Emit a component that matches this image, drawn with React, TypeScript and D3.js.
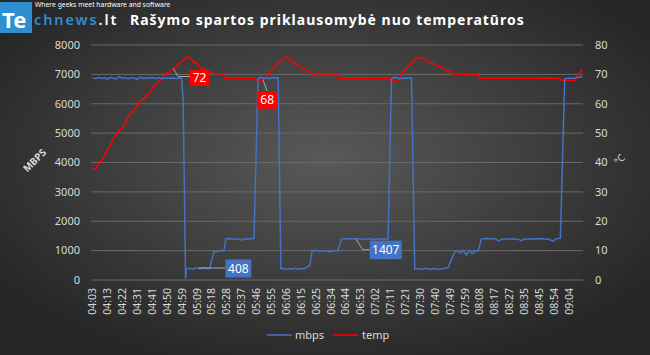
import { useEffect, useRef } from "react"
import * as d3 from "d3"

// x positions are in label steps (0 = "04:03", 1 = "04:13", ...)
const timeLabels = [
  "04:03", "04:13", "04:22", "04:31", "04:41", "04:50", "04:59", "05:09", "05:18", "05:28", "05:37",
  "05:46", "05:55", "06:06", "06:15", "06:25", "06:34", "06:44", "06:53", "07:02", "07:11", "07:21",
  "07:30", "07:40", "07:49", "07:59", "08:08", "08:17", "08:27", "08:35", "08:45", "08:54", "09:04",
]

const mbpsX = [
  0, 0.2, 0.4, 0.6, 0.8, 1.0, 1.2, 1.4, 1.6, 1.8, 2.0, 2.2, 2.4, 2.6, 2.8, 3.0, 3.2, 3.4, 3.6, 3.8, 4.0,
  4.2, 4.4, 4.6, 4.8, 5.0, 5.2, 5.4, 5.6, 5.8, 5.97, 6.08, 6.24, 6.3, 6.5, 6.7, 6.9, 7.1, 7.3, 7.5, 7.7,
  7.87, 8.0, 8.16, 8.4, 8.6, 8.81, 8.95, 9.2, 9.5, 9.8, 10.0, 10.1, 10.4, 10.83, 11.11, 11.3, 11.5, 11.7,
  11.9, 12.1, 12.3, 12.46, 12.64, 12.8, 13.0, 13.2, 13.4, 13.6, 13.8, 14.0, 14.2, 14.4, 14.58, 14.74, 15.0,
  15.3, 15.6, 15.9, 16.2, 16.46, 16.71, 17.0, 17.3, 17.67, 18.0, 18.3, 18.6, 18.9, 19.2, 19.5, 19.84, 20.07,
  20.3, 20.6, 20.9, 21.2, 21.41, 21.63, 21.9, 22.1, 22.4, 22.7, 23.0, 23.3, 23.6, 23.87, 24.31, 24.5, 24.7,
  24.9, 25.1, 25.3, 25.5, 25.7, 25.88, 26.11, 26.5, 27.0, 27.3, 27.5, 28.0, 28.5, 28.8, 29.0, 29.5, 30.0,
  30.3, 30.6, 30.9, 31.1, 31.41, 31.7, 32.0, 32.3, 32.6, 32.89,
]
const mbpsValues = [
  6880, 6850, 6900, 6860, 6880, 6840, 6900, 6870, 6850, 6920, 6870, 6880, 6850, 6890, 6870, 6840, 6900,
  6860, 6880, 6870, 6900, 6850, 6880, 6870, 6860, 6880, 6870, 6880, 6860, 6880, 6870, 6100, 50, 380, 400,
  370, 410, 408, 390, 420, 380, 400, 700, 960, 980, 1000, 990, 1400, 1410, 1390, 1400, 1350, 1400, 1400,
  1410, 6850, 6900, 6850, 6880, 6860, 6900, 6870, 6880, 380, 400, 360, 390, 370, 410, 360, 400, 380, 450,
  500, 1000, 1010, 980, 1000, 960, 990, 1000, 1400, 1410, 1400, 1407, 1400, 1390, 1400, 1380, 1400, 1400,
  1400, 6850, 6900, 6850, 6880, 6870, 6880, 370, 390, 360, 400, 370, 390, 360, 400, 420, 950, 1000, 920,
  1010, 850, 1000, 900, 1000, 980, 1400, 1410, 1400, 1330, 1400, 1400, 1400, 1340, 1400, 1400, 1410, 1400,
  1400, 1320, 1400, 1420, 6850, 6880, 6860, 6900, 6920,
]

const tempX = [
  0, 0.22, 0.49, 0.71, 0.83, 1.16, 1.38, 1.61, 1.83, 2.05, 2.28, 2.5, 2.72, 2.95, 3.17, 3.4, 3.62, 3.85,
  4.07, 4.3, 4.52, 4.74, 4.97, 5.19, 5.41, 5.64, 5.86, 6.08, 6.31, 6.53, 6.75, 6.98, 7.2, 7.54, 7.76, 7.99,
  8.81, 8.9, 10.89, 11.0, 11.45, 11.68, 12.01, 12.35, 12.57, 12.91, 13.24, 13.46, 13.69, 14.03, 14.36,
  14.58, 14.81, 16.48, 16.55, 19.95, 20.02, 20.45, 20.62, 20.85, 21.07, 21.3, 21.52, 21.74, 22.08, 22.3,
  22.64, 22.97, 23.31, 23.64, 23.98, 24.2, 25.88, 25.99, 31.36, 31.48, 32.37, 32.59, 32.89,
]
const tempValues = [
  37.8, 37.8, 40.3, 41.1, 43.1, 45.4, 48.2, 49.4, 51.3, 52.0, 54.5, 56.5, 57.5, 59.0, 61.0, 61.5, 63.0,
  63.8, 65.8, 66.6, 67.8, 69.2, 70.4, 70.9, 72, 72.6, 74.0, 74.7, 75.8, 75.8, 74.3, 73.8, 72.4, 71.7,
  71.3, 70.4, 70.0, 68.7, 68.7, 68.1, 68, 69.2, 71.3, 73.2, 74.3, 75.8, 75.5, 74.0, 73.2, 72.4, 71.5,
  70.9, 69.8, 69.8, 68.7, 68.7, 67.9, 67.9, 68.7, 70.9, 72.1, 73.2, 74.7, 75.7, 75.8, 74.9, 74.0, 73.5,
  72.6, 71.7, 70.9, 70.0, 69.8, 68.7, 68.7, 67.9, 67.9, 69.8, 71.7,
]

const leftTicks = [0, 1000, 2000, 3000, 4000, 5000, 6000, 7000, 8000]
const rightTicks = [0, 10, 20, 30, 40, 50, 60, 70, 80]

// callouts: [x, value, label]
const tempCallouts: [number, number, string][] = [[5.41, 72, "72"], [11.45, 68, "68"]]
const mbpsCallouts: [number, number, string][] = [[7.1, 408, "408"], [17.67, 1407, "1407"]]

const BLUE = "#4472C4"
const RED = "#FF0000"
const FONT = "'Noto Sans', sans-serif"

export default function App() {
  const svgRef = useRef<SVGSVGElement>(null)

  useEffect(() => {
    if (!svgRef.current) return
    const width = 650
    const height = 355

    d3.select(svgRef.current).selectAll("*").remove()
    const svg = d3.select(svgRef.current)

    // Background gradient
    const defs = svg.append("defs")
    const grad = defs
      .append("radialGradient")
      .attr("id", "bg")
      .attr("cx", "50%")
      .attr("cy", "45%")
      .attr("r", "60%")
    grad.append("stop").attr("offset", "0%").attr("stop-color", "#595959")
    grad.append("stop").attr("offset", "100%").attr("stop-color", "#272727")
    svg.append("rect").attr("width", width).attr("height", height).attr("fill", "url(#bg)")

    const left = 91
    const right = 583
    const x = d3.scaleLinear().domain([-0.11, 32.93]).range([left, right])
    const yL = d3.scaleLinear().domain([0, 8000]).range([280, 45])
    const yR = d3.scaleLinear().domain([0, 80]).range([280, 45])

    // Gridlines
    svg
      .append("g")
      .selectAll("line")
      .data(leftTicks)
      .join("line")
      .attr("x1", left)
      .attr("x2", right)
      .attr("y1", (d) => yL(d))
      .attr("y2", (d) => yL(d))
      .attr("stroke", "#6a6a6a")
      .attr("stroke-width", 1)

    // Left axis labels
    svg
      .append("g")
      .selectAll("text")
      .data(leftTicks)
      .join("text")
      .attr("x", 80)
      .attr("y", (d) => yL(d))
      .attr("dy", "0.35em")
      .attr("text-anchor", "end")
      .attr("fill", "#d9d9d9")
      .style("font", `11px ${FONT}`)
      .text((d) => d)

    // Right axis labels
    svg
      .append("g")
      .selectAll("text")
      .data(rightTicks)
      .join("text")
      .attr("x", 595)
      .attr("y", (d) => yR(d))
      .attr("dy", "0.35em")
      .attr("fill", "#d9d9d9")
      .style("font", `11px ${FONT}`)
      .text((d) => d)

    // X labels
    svg
      .append("g")
      .selectAll("text")
      .data(timeLabels)
      .join("text")
      .attr("transform", (_d, i) => `translate(${x(i)},288) rotate(-90)`)
      .attr("dy", "0.35em")
      .attr("text-anchor", "end")
      .attr("fill", "#d9d9d9")
      .style("font", `10.5px ${FONT}`)
      .text((d) => d)

    // Axis titles
    svg
      .append("text")
      .attr("transform", "translate(37,163) rotate(-45)")
      .attr("text-anchor", "middle")
      .attr("fill", "#d9d9d9")
      .style("font", `bold 10px ${FONT}`)
      .text("MBPS")
    svg
      .append("text")
      .attr("transform", "translate(622,162) rotate(-45)")
      .attr("text-anchor", "middle")
      .attr("fill", "#d9d9d9")
      .style("font", `10px ${FONT}`)
      .text("°C")

    // Lines
    const mbpsData = mbpsX.map((v, i) => [v, mbpsValues[i]] as [number, number])
    const tempData = tempX.map((v, i) => [v, tempValues[i]] as [number, number])

    svg
      .append("path")
      .datum(tempData)
      .attr("fill", "none")
      .attr("stroke", RED)
      .attr("stroke-width", 1.5)
      .attr("d", d3.line<[number, number]>().x((d) => x(d[0])).y((d) => yR(d[1])))

    svg
      .append("path")
      .datum(mbpsData)
      .attr("fill", "none")
      .attr("stroke", BLUE)
      .attr("stroke-width", 1.5)
      .attr("d", d3.line<[number, number]>().x((d) => x(d[0])).y((d) => yL(d[1])))

    // Callouts
    const drawCallout = (
      px: number,
      py: number,
      pts: [number, number][],
      bx: number,
      by: number,
      bw: number,
      bh: number,
      fill: string,
      label: string
    ) => {
      svg
        .append("path")
        .attr("d", d3.line()([[px, py], ...pts]))
        .attr("fill", "none")
        .attr("stroke", "#a6a6a6")
        .attr("stroke-width", 1)
      svg.append("rect").attr("x", bx).attr("y", by).attr("width", bw).attr("height", bh).attr("fill", fill)
      svg
        .append("text")
        .attr("x", bx + bw / 2)
        .attr("y", by + bh / 2)
        .attr("dy", "0.36em")
        .attr("text-anchor", "middle")
        .attr("fill", "#ffffff")
        .style("font", `12px ${FONT}`)
        .text(label)
    }

    const [t72, t68] = tempCallouts
    const [m408, m1407] = mbpsCallouts
    {
      const px = x(t72[0]), py = yR(t72[1])
      drawCallout(px, py, [[px + 5, py + 8], [190, py + 8]], 190, py + 1.5, 19, 16, RED, t72[2])
    }
    {
      const px = x(t68[0]), py = yR(t68[1])
      drawCallout(px, py, [[px + 4, py + 11]], px - 6, py + 11, 20, 17.5, RED, t68[2])
    }
    {
      const px = x(m408[0]), py = yL(m408[1])
      drawCallout(px, py, [[px + 27, py]], px + 27, py - 8.5, 26, 18, BLUE, m408[2])
    }
    {
      const px = x(m1407[0]), py = yL(m1407[1])
      drawCallout(px, py, [[px + 7, py + 11], [px + 14, py + 11]], px + 14, py + 2, 32, 18.5, BLUE, m1407[2])
    }

    // Legend
    const legend = svg.append("g")
    legend.append("line").attr("x1", 267).attr("x2", 292).attr("y1", 335).attr("y2", 335).attr("stroke", BLUE).attr("stroke-width", 1.5)
    legend.append("text").attr("x", 295).attr("y", 335).attr("dy", "0.35em").attr("fill", "#d9d9d9").style("font", `11px ${FONT}`).text("mbps")
    legend.append("line").attr("x1", 333).attr("x2", 358).attr("y1", 335).attr("y2", 335).attr("stroke", RED).attr("stroke-width", 1.5)
    legend.append("text").attr("x", 362).attr("y", 335).attr("dy", "0.35em").attr("fill", "#d9d9d9").style("font", `11px ${FONT}`).text("temp")

    // Title
    svg
      .append("text")
      .attr("x", 130)
      .attr("y", 25)
      .attr("fill", "#ffffff")
      .style("font", `bold 14px ${FONT}`)
      .style("letter-spacing", "1px")
      .text("Rašymo spartos priklausomybė nuo temperatūros")

    // Logo
    svg.append("rect").attr("x", 0).attr("y", 2).attr("width", 32).attr("height", 31).attr("fill", "#2E8FD0")
    svg
      .append("text")
      .attr("x", 2)
      .attr("y", 28)
      .attr("fill", "#ffffff")
      .style("font", `bold 22px ${FONT}`)
      .text("Te")
    const logo = svg.append("text").attr("x", 34).attr("y", 25).style("font", `600 14.5px ${FONT}`).style("letter-spacing", "1.9px")
    logo.append("tspan").attr("fill", "#2E8FD0").text("chnews")
    logo.append("tspan").attr("fill", "#ffffff").text(".lt")
    svg
      .append("text")
      .attr("x", 35)
      .attr("y", 6.5)
      .attr("fill", "#ffffff")
      .style("font", `6.8px ${FONT}`)
      .text("Where geeks meet hardware and software")
  }, [])

  return <svg ref={svgRef} width={650} height={355} style={{ position: "absolute", left: 0, top: 0 }}></svg>
}
